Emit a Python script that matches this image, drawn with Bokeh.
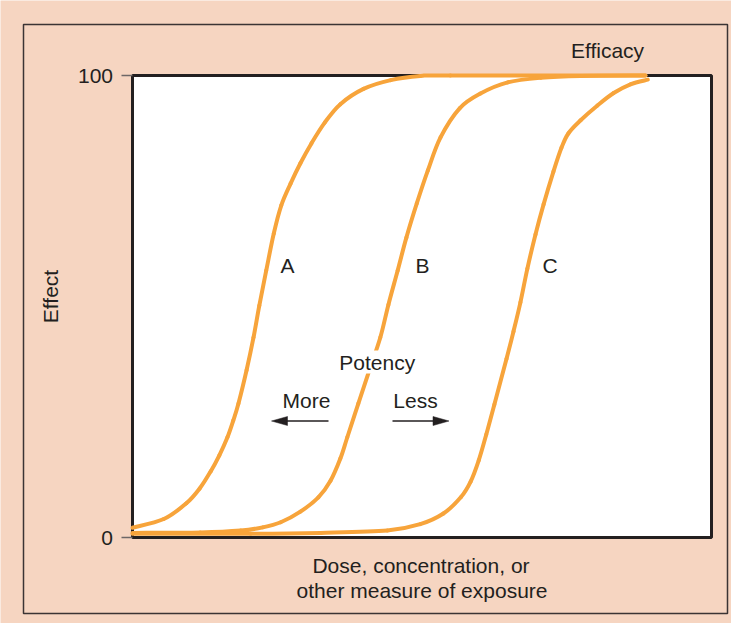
from math import pi
from bokeh.plotting import figure
from bokeh.models import Range1d, Label
from bokeh.embed import file_html
from bokeh.resources import INLINE

# ---------------- data (dose in % of axis span, effect in %) ----------------
dose_a = [0, 5.4, 9.3, 11.6, 13.5, 15.0, 16.4, 17.4, 18.3, 19.7, 20.9, 21.9, 23.1,
          24.4, 25.7, 27.3, 29.0, 30.9, 33.2, 35.9, 39.9, 44.6, 49.7, 54.9, 88.6]
effect_a = [2.1, 4.0, 7.4, 10.6, 14.3, 17.8, 21.7, 25.3, 29.0, 36.2, 43.3, 50.2, 57.8,
            65.8, 71.9, 76.6, 81.0, 85.3, 89.8, 93.8, 97.1, 99.0, 99.9, 100, 100]

dose_b = [0, 11.7, 18.7, 22.5, 25.6, 29.0, 32.1, 34.2, 35.9, 37.1, 39.0, 40.9, 42.8,
          44.2, 45.8, 47.3, 49.1, 51.0, 53.2, 56.5, 60.1, 64.8, 70.5, 77.4, 88.6]
effect_b = [1.0, 1.1, 1.5, 2.2, 3.3, 5.6, 8.7, 12.3, 17.1, 21.7, 29.0, 36.2, 43.3,
            50.4, 57.8, 64.9, 72.3, 79.4, 86.6, 92.9, 96.1, 98.5, 99.5, 99.9, 100]

dose_c = [0, 20.4, 32.5, 44.0, 49.7, 53.7, 56.7, 58.4, 59.8, 61.1, 62.5, 64.6, 65.8,
          67.0, 68.2, 69.6, 71.0, 72.7, 74.1, 75.3, 77.4, 80.3, 83.1, 86.0, 89.0]
effect_c = [0.8, 0.8, 1.0, 1.5, 2.9, 5.2, 8.7, 12.1, 16.7, 22.3, 28.8, 38.7, 44.6,
            50.9, 58.2, 65.6, 72.1, 79.2, 84.4, 87.5, 90.3, 93.5, 96.2, 98.1, 99.1]

curve_names = ["A", "B", "C"]
tick_values = [0, 100]
tick_labels = ["0", "100"]
x_max = 100
y_max = 100

# ---------------- style ----------------
BG = "#F6D5C1"
ORANGE = "#F7A43B"
INK = "#231F20"
FONT = "Liberation Sans"
FS = "21px"

W, H = 731, 623          # canvas covers the whole page


# page pixel -> data coordinates (frame spans the whole canvas)
def dx(X):
    return (X - 132) / 5.79


def dy(Y):
    return (537 - Y) / 4.62


p = figure(width=W, height=H,
           x_range=Range1d(dx(0), dx(W)), y_range=Range1d(dy(H), dy(0)),
           x_axis_type=None, y_axis_type=None,
           output_backend="svg", toolbar_location=None, tools="",
           min_border=0, border_fill_color=BG, background_fill_color=BG,
           outline_line_color=None)
p.grid.visible = False

# outer frame
p.quad(left=dx(23), right=dx(727), top=dy(24), bottom=dy(613),
       fill_color=None, line_color="#3b3434", line_width=1.5)

# plot area
p.quad(left=0, right=x_max, bottom=0, top=y_max,
       fill_color="white", line_color=INK, line_width=3)

# y ticks
p.segment(x0=[dx(121)] * len(tick_values), x1=[0] * len(tick_values),
          y0=tick_values, y1=tick_values, line_color="#6d6767", line_width=1.3)
for v, t in zip(tick_values, tick_labels):
    p.add_layout(Label(x=dx(112.5), y=v, text=t, text_align="right",
                       text_baseline="middle", text_font=FONT,
                       text_font_size=FS, text_color=INK))


# smooth curves: Catmull-Rom spline through the read points, drawn as beziers
def smooth(xs, ys):
    n = len(xs)
    seg = dict(x0=[], y0=[], x1=[], y1=[], cx0=[], cy0=[], cx1=[], cy1=[])
    for i in range(n - 1):
        i0, i3 = max(i - 1, 0), min(i + 2, n - 1)
        seg["x0"].append(xs[i]); seg["y0"].append(ys[i])
        seg["x1"].append(xs[i + 1]); seg["y1"].append(ys[i + 1])
        seg["cx0"].append(xs[i] + (xs[i + 1] - xs[i0]) / 6)
        seg["cy0"].append(ys[i] + (ys[i + 1] - ys[i0]) / 6)
        seg["cx1"].append(xs[i + 1] - (xs[i3] - xs[i]) / 6)
        seg["cy1"].append(ys[i + 1] - (ys[i3] - ys[i]) / 6)
    return seg


for xs, ys in [(dose_a, effect_a), (dose_b, effect_b), (dose_c, effect_c)]:
    s = smooth(xs, ys)
    p.bezier(x0=s["x0"], y0=s["y0"], x1=s["x1"], y1=s["y1"],
             cx0=s["cx0"], cy0=s["cy0"], cx1=s["cx1"], cy1=s["cy1"],
             line_color=ORANGE, line_width=4, line_cap="round")

# curve labels
for name, X in zip(curve_names, [287, 422, 549.7]):
    p.add_layout(Label(x=dx(X), y=dy(265), text=name, text_align="center",
                       text_baseline="middle", text_font=FONT,
                       text_font_size=FS, text_color=INK))


def txt(X, Y, s, bg=None, angle=0):
    lab = Label(x=dx(X), y=dy(Y), text=s, text_align="center",
                text_baseline="middle", text_font=FONT, text_font_size=FS,
                text_color=INK, angle=angle)
    if bg:
        lab.background_fill_color = bg
    p.add_layout(lab)


txt(607, 49.5, "Efficacy")
txt(376.7, 361.5, "Potency", bg="white")
txt(306, 400, "More")
txt(415, 400, "Less")
txt(50, 296, "Effect", angle=pi / 2)
txt(420.5, 565, "Dose, concentration, or")
txt(421.5, 589.5, "other measure of exposure")

# arrows (shaft + filled head)
Y_ARR = 420.5
p.segment(x0=[dx(328), dx(392)], x1=[dx(284), dx(436)],
          y0=[dy(Y_ARR)] * 2, y1=[dy(Y_ARR)] * 2, line_color=INK, line_width=1.4)
p.patches(xs=[[dx(271), dx(287), dx(287)], [dx(448.5), dx(432.5), dx(432.5)]],
          ys=[[dy(Y_ARR), dy(Y_ARR - 4.5), dy(Y_ARR + 4.5)],
              [dy(Y_ARR), dy(Y_ARR - 4.5), dy(Y_ARR + 4.5)]],
          fill_color=INK, line_color=INK, line_width=0.5)

html = file_html(p, INLINE, title="Dose-response curves")
html = html.replace("<body>", '<body style="margin:0;background:%s;">' % BG, 1)
open("out.html", "w").write(html)
